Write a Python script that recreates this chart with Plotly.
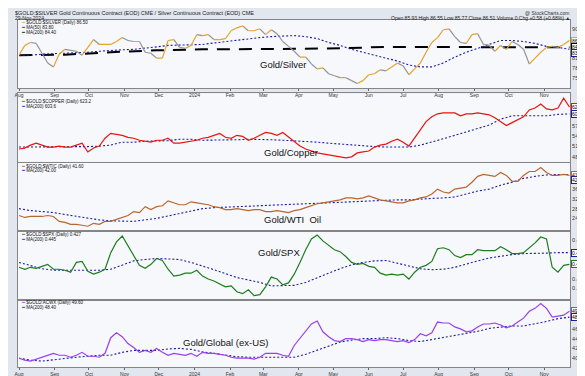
import pandas as pd
import plotly.graph_objects as go

START = pd.Timestamp("2023-08-01")

# ---------------- data (5-day steps for prices, 10-day steps for averages) -------------
gs_vals = [82.0, 85.0, 85.9, 85.6, 82.6, 79.6, 78.4, 82.3, 83.8, 83.5,
           83.2, 82.0, 84.4, 86.8, 85.3, 85.3, 85.3, 86.2, 87.4, 86.5,
           86.2, 86.2, 82.9, 82.6, 81.1, 81.1, 86.5, 86.8, 84.4, 84.1,
           85.0, 88.3, 88.0, 88.3, 86.8, 86.8, 87.1, 89.5, 90.4, 91.0,
           89.5, 89.5, 90.1, 88.3, 89.8, 88.6, 86.2, 84.7, 83.2, 81.4,
           81.4, 79.3, 77.8, 78.1, 76.3, 75.7, 75.1, 75.1, 74.2, 73.3,
           74.2, 76.0, 76.3, 77.5, 77.2, 78.4, 79.6, 78.7, 76.0, 77.8,
           79.6, 82.9, 85.9, 87.4, 89.8, 90.1, 87.7, 85.9, 85.6, 88.3,
           88.6, 85.3, 85.0, 83.2, 85.0, 83.8, 86.2, 85.3, 83.8, 79.3,
           81.1, 82.9, 84.4, 84.7, 84.4, 85.3, 86.5]
gs_ma50 = [82.0, 82.0, 82.3, 82.45, 82.6, 82.6, 82.9, 83.2, 83.5, 83.65,
           83.8, 84.1, 84.55, 85.0, 85.15, 85.3, 85.3, 85.75, 86.2, 86.5,
           86.95, 87.4, 87.7, 87.85, 88.0, 87.7, 87.1, 85.9, 85.0, 83.8,
           82.9, 82.0, 81.1, 80.2, 79.0, 78.4, 78.4, 79.6, 81.4, 82.9,
           84.1, 85.3, 86.5, 86.5, 86.2, 85.6, 84.7, 84.4, 83.8]
gs_ma200 = [82.0, 82.15, 82.9, 83.5, 83.8, 83.8, 83.95, 84.1, 84.55, 84.55, 84.4, 84.4, 84.4]

gc_vals = [502.8, 505.6, 514.0, 519.6, 514.0, 508.4, 508.4, 511.2, 508.4, 508.4,
           514.0, 519.6, 494.4, 505.6, 511.2, 533.6, 547.6, 544.8, 542.0, 536.4,
           533.6, 528.0, 525.2, 522.4, 528.0, 528.0, 533.6, 519.6, 519.6, 522.4,
           525.2, 528.0, 533.6, 536.4, 542.0, 547.6, 536.4, 533.6, 542.0, 539.2,
           528.0, 533.6, 542.0, 550.4, 547.6, 542.0, 550.4, 536.4, 522.4, 511.2,
           502.8, 497.2, 491.6, 488.8, 486.0, 483.2, 480.4, 477.6, 480.4, 491.6,
           494.4, 497.2, 508.4, 514.0, 516.8, 525.2, 530.8, 522.4, 511.2, 533.6,
           558.8, 581.2, 595.2, 603.6, 606.4, 606.4, 606.4, 598.0, 603.6, 603.6,
           606.4, 603.6, 600.8, 592.4, 581.2, 570.0, 578.4, 586.8, 595.2, 614.8,
           620.4, 631.6, 617.6, 614.8, 620.4, 648.4, 623.2]
gc_ma = [508.4, 508.4, 508.4, 508.4, 508.4, 508.4, 509.8, 511.2, 514.0, 522.4,
         522.4, 525.2, 525.2, 526.6, 530.8, 530.8, 528.0, 528.0, 528.0, 529.4,
         530.8, 530.8, 529.4, 528.0, 526.6, 525.2, 522.4, 519.6, 516.8, 514.0,
         511.2, 509.8, 508.4, 508.4, 508.4, 514.0, 522.4, 532.2, 542.0, 551.8,
         561.6, 571.4, 588.2, 598.0, 598.0, 598.0, 598.0, 602.2, 603.6]

go_vals = [25.2, 24.4, 24.8, 24.8, 24.8, 25.2, 24.8, 22.8, 22.4, 21.6,
           21.6, 21.2, 20.8, 22.0, 21.6, 22.8, 22.8, 23.6, 24.4, 25.2,
           26.8, 26.4, 28.8, 27.6, 28.8, 29.2, 31.2, 30.4, 29.6, 29.6,
           30.8, 30.4, 30.0, 29.6, 28.8, 28.4, 27.6, 27.6, 28.0, 27.6,
           27.2, 27.6, 27.6, 26.8, 26.8, 27.2, 26.8, 26.4, 27.2, 27.6,
           28.4, 29.2, 30.0, 30.4, 30.8, 31.2, 31.6, 32.4, 32.4, 32.0,
           32.4, 33.2, 32.4, 31.6, 31.2, 30.8, 30.4, 30.4, 31.2, 31.6,
           32.4, 32.8, 34.0, 36.0, 34.8, 34.4, 36.0, 36.4, 36.8, 38.8,
           41.2, 42.0, 41.6, 41.2, 42.8, 41.6, 39.2, 39.2, 41.6, 43.2,
           43.2, 44.8, 42.8, 41.6, 41.6, 42.0, 41.6]
go_ma = [28.0, 27.2, 26.8, 26.4, 25.6, 24.8, 24.2, 23.4, 23.0, 22.8,
         22.8, 23.4, 24.0, 25.0, 26.0, 27.2, 28.0, 28.4, 28.6, 28.8,
         29.0, 29.2, 29.4, 29.6, 29.8, 30.0, 30.2, 30.4, 30.6, 30.8,
         31.0, 31.2, 31.6, 31.6, 31.6, 32.0, 32.2, 32.4, 32.8, 34.0,
         35.2, 36.0, 37.6, 38.8, 40.4, 41.2, 41.8, 42.0, 42.0]

spx_vals = [0.4225, 0.4195, 0.4225, 0.421, 0.424, 0.427, 0.4195, 0.4195, 0.418, 0.415,
            0.43, 0.4315, 0.4165, 0.412, 0.415, 0.4195, 0.445, 0.4615, 0.4705, 0.4555,
            0.439, 0.4255, 0.421, 0.427, 0.436, 0.433, 0.4195, 0.409, 0.4105, 0.4135,
            0.4135, 0.418, 0.409, 0.4045, 0.4015, 0.397, 0.3925, 0.394, 0.385, 0.382,
            0.388, 0.379, 0.3805, 0.3925, 0.4075, 0.4045, 0.3955, 0.3985, 0.412, 0.43,
            0.4495, 0.466, 0.472, 0.463, 0.4555, 0.4495, 0.4465, 0.439, 0.43, 0.427,
            0.4285, 0.424, 0.4225, 0.4135, 0.4105, 0.412, 0.4105, 0.412, 0.4045, 0.415,
            0.4225, 0.4255, 0.4315, 0.451, 0.4525, 0.4495, 0.4405, 0.4375, 0.442, 0.442,
            0.4495, 0.448, 0.448, 0.448, 0.454, 0.4495, 0.4435, 0.4435, 0.445, 0.4525,
            0.46, 0.469, 0.466, 0.4225, 0.415, 0.4255, 0.427]
spx_ma = [0.43, 0.4248, 0.4203, 0.418, 0.418, 0.418, 0.418, 0.418, 0.4195, 0.4263,
          0.4323, 0.4345, 0.436, 0.4353, 0.4345, 0.43, 0.4248, 0.4188, 0.4128, 0.4068,
          0.403, 0.3993, 0.394, 0.394, 0.3948, 0.3993, 0.4068, 0.4135, 0.4203, 0.4263,
          0.43, 0.4323, 0.433, 0.4285, 0.424, 0.4203, 0.4188, 0.4195, 0.4225, 0.4278,
          0.4323, 0.4368, 0.4398, 0.442, 0.4435, 0.4435, 0.4443, 0.445, 0.445]

gg_vals = [40.0, 39.6, 39.4, 39.8, 40.2, 40.6, 41.0, 40.6, 40.6, 40.2,
           40.6, 41.2, 40.4, 40.4, 40.2, 41.0, 44.2, 45.2, 44.4, 43.0,
           42.2, 41.2, 41.6, 41.2, 42.0, 41.2, 40.6, 41.0, 40.8, 40.6,
           41.0, 40.4, 41.2, 41.0, 41.0, 40.8, 40.6, 40.2, 40.0, 40.0,
           40.0, 39.8, 40.2, 41.0, 41.0, 41.0, 40.6, 40.4, 42.6, 44.0,
           45.6, 47.0, 47.6, 45.4, 44.4, 43.6, 43.4, 44.0, 44.0, 43.8,
           43.4, 43.8, 43.6, 43.8, 43.8, 43.6, 43.4, 43.6, 43.2, 43.8,
           45.0, 44.6, 45.2, 47.4, 47.2, 47.2, 46.4, 46.0, 45.4, 45.6,
           46.4, 47.0, 47.0, 47.2, 46.8, 46.2, 46.6, 47.4, 48.2, 49.6,
           50.2, 51.2, 50.2, 48.4, 48.6, 48.8, 49.6]
gg_ma = [40.0, 39.6, 39.4, 39.7, 40.0, 40.2, 40.4, 40.6, 40.6, 41.2,
         41.6, 41.6, 41.6, 41.9, 42.0, 41.8, 41.3, 41.0, 40.6, 40.3,
         40.2, 40.2, 40.2, 40.2, 40.2, 40.8, 41.6, 42.5, 43.3, 43.7,
         44.0, 44.0, 44.2, 44.0, 43.6, 43.4, 43.8, 44.2, 44.6, 45.0,
         45.5, 46.1, 46.4, 46.6, 46.6, 47.0, 47.5, 48.1, 48.4]

panel_titles = ["Gold/Silver", "Gold/Copper", "Gold/WTI  Oil", "Gold/SPX", "Gold/Global (ex-US)"]
symbols = ["$GOLD:$SILVER", "$GOLD:$COPPER", "$GOLD:$WTIC", "$GOLD:$SPX", "$GOLD:ACWX"]

# ---------------- styling / layout helpers ----------------
W, H = 585, 376
L, R, T, B = 7, 563, 12, 367
def px(x): return (x - L) / (R - L)
def py(y): return (B - y) / (B - T)

panel_px = [(12, 82), (87, 157), (158, 228), (228, 298), (298, 367)]
yranges = [[71.8, 92.8], [466.4, 662.4], [18.8, 46.8], [0.373, 0.478], [38.2, 52.0]]
ydticks = [3, 30, 4, 0.015, 2]
yfmt = [".1f", ".0f", ".1f", ".3f", ".1f"]
tagfmt = [".2f", ".1f", ".2f", ".3f", ".2f"]

GOLD, GRAY = "#e3a32e", "#939393"
RED, BROWN, GREEN, PURPLE = "#e8140f", "#b8662e", "#1d7d1d", "#9a3ef0"
NAVY = "#1c1ca0"
FONT = "Liberation Sans"
MA_LINE = dict(color=NAVY, width=1.1, dash="2px,2px")

def d5(n): return pd.date_range(START, periods=n, freq="5D")
def d10(n): return pd.date_range(START, periods=n, freq="10D")
def d40(n): return pd.date_range(START, periods=n, freq="40D")

def ax(k, kind):
    return kind if k == 1 else f"{kind}{k}"

fig = go.Figure()

# panel 1: two-coloured line by direction
xs = d5(len(gs_vals))
up_x, up_y, dn_x, dn_y = [], [], [], []
for i in range(len(gs_vals) - 1):
    if gs_vals[i + 1] >= gs_vals[i]:
        up_x += [xs[i], xs[i + 1], None]; up_y += [gs_vals[i], gs_vals[i + 1], None]
    else:
        dn_x += [xs[i], xs[i + 1], None]; dn_y += [gs_vals[i], gs_vals[i + 1], None]
fig.add_trace(go.Scatter(x=d40(len(gs_ma200)), y=gs_ma200, mode="lines",
                         line=dict(color="#000000", width=2, dash="13px,9px"),
                         xaxis="x", yaxis="y"))
fig.add_trace(go.Scatter(x=d10(len(gs_ma50)), y=gs_ma50, mode="lines", line=MA_LINE,
                         xaxis="x", yaxis="y"))
fig.add_trace(go.Scatter(x=dn_x, y=dn_y, mode="lines", line=dict(color=GRAY, width=1.2),
                         xaxis="x", yaxis="y"))
fig.add_trace(go.Scatter(x=up_x, y=up_y, mode="lines", line=dict(color=GOLD, width=1.2),
                         xaxis="x", yaxis="y"))

others = [(gc_vals, gc_ma, RED), (go_vals, go_ma, BROWN),
          (spx_vals, spx_ma, GREEN), (gg_vals, gg_ma, PURPLE)]
for k, (vals, ma, col) in enumerate(others, start=2):
    fig.add_trace(go.Scatter(x=d10(len(ma)), y=ma, mode="lines", line=MA_LINE,
                             xaxis=ax(k, "x"), yaxis=ax(k, "y")))
    fig.add_trace(go.Scatter(x=d5(len(vals)), y=vals, mode="lines",
                             line=dict(color=col, width=1.2),
                             xaxis=ax(k, "x"), yaxis=ax(k, "y")))

# right-axis value tags: (panel, value, colour, yshift)
tags = [(1, gs_vals[-1], GOLD, 0), (1, gs_ma200[-1], "#000000", 0), (1, gs_ma50[-1], NAVY, -4)]
for k, (vals, ma, col) in enumerate(others, start=2):
    shift = -6 if k == 3 else 0
    tags.append((k, vals[-1], col, 0))
    tags.append((k, ma[-1], NAVY, shift))

# axes
x0 = START - pd.Timedelta(days=0.9)
x1 = START + pd.Timedelta(days=480.5)
tickvals = pd.date_range("2023-08-01", "2024-11-01", freq="MS")
ticktext = ["2024" if d.month == 1 else d.strftime("%b") for d in tickvals]

layout = dict(width=W, height=H, margin=dict(l=L, r=W - R, t=T, b=H - B),
              paper_bgcolor="#e2e6ee", plot_bgcolor="#f7f8fc", showlegend=False,
              font=dict(family=FONT, size=6, color="#222222"))
for k in range(1, 6):
    top, bot = panel_px[k - 1]
    lo, hi = yranges[k - 1]
    step = ydticks[k - 1]
    hpx = bot - top
    tag_px = [(v - lo) / (hi - lo) * hpx - s for (kk, v, c, s) in tags if kk == k]
    yt = []
    n = int(lo // step) + 1
    while n * step <= hi:
        v = round(n * step, 4)
        p = (v - lo) / (hi - lo) * hpx
        if all(abs(p - tp) > 6 for tp in tag_px) and 3 < p < hpx - 3:
            yt.append(v)
        n += 1
    show = k in (1, 5)
    layout["xaxis" if k == 1 else f"xaxis{k}"] = dict(
        domain=[0, 1], anchor=ax(k, "y"), type="date", range=[x0, x1],
        tickvals=list(tickvals), ticktext=ticktext, showticklabels=show,
        ticks="outside" if show else "", ticklen=1.5, tickcolor="#666",
        tickfont=dict(size=5, color="#333"), showgrid=False, zeroline=False,
        showline=True, mirror=True, linecolor="#858585", linewidth=1)
    layout["yaxis" if k == 1 else f"yaxis{k}"] = dict(
        domain=[py(bot), py(top)], anchor=ax(k, "x"), side="right",
        range=yranges[k - 1], tickvals=yt, tickformat=yfmt[k - 1],
        tickfont=dict(size=5.5, color="#333"), showgrid=False, zeroline=False,
        ticks="", showline=True, mirror=True, linecolor="#858585", linewidth=1)
fig.update_layout(**layout)

ann = []
def note(text, x, y, size, xanchor="left", color="#222"):
    ann.append(dict(text=text, x=px(x), y=py(y), xref="paper", yref="paper",
                    xanchor=xanchor, yanchor="middle", showarrow=False,
                    font=dict(size=size, color=color, family=FONT)))

# panel titles (centre positions)
title_pos = [(274, 58), (282, 148), (283, 216), (270, 250), (217, 342)]
for t, (x, y) in zip(panel_titles, title_pos):
    note(t, x, y, 9.5, "center", "#111")

# header
note("$GOLD:$SILVER Gold Continuous Contract (EOD) CME / Silver Continuous Contract (EOD) CME", 2, 4.5, 5.5)
note("29-Nov-2024", 2, 9.5, 5)
note("@ StockCharts.com", 565, 4.5, 5, "right", "#333")
note("Open 85.93 High 86.55 Low 85.77 Close 86.51 Volume 0 Chg +0.58 (+0.68%) \u25b2", 565, 9.5, 5, "right")

# in-panel legends
def legend_line(col, text, y):
    note(f"<span style='color:{col}'>\u2501</span> {text}", 8, y, 4.5, "left", "#111")

legend_line(GOLD, f"{symbols[0]} (Daily) {gs_vals[-1]:.2f}", 15)
legend_line(NAVY, f"MA(50) {gs_ma50[-1]:.2f}", 19.7)
legend_line("#000", f"MA(200) {gs_ma200[-1]:.2f}", 24.4)
legend_y = [(95.5, 100.2), (161.5, 166.2), (231.5, 236.2), (301.5, 306.2)]
for k, ((vals, ma, col), (ya, yb)) in enumerate(zip(others, legend_y), start=2):
    f = tagfmt[k - 1]
    legend_line(col, f"{symbols[k - 1]} (Daily) {format(vals[-1], f)}", ya)
    legend_line(NAVY, f"MA(200) {format(ma[-1], f)}", yb)

# right-axis value tags
for (k, val, col, shift) in tags:
    ann.append(dict(text=format(val, tagfmt[k - 1]), x=1.0, xref="paper", y=val, yref=ax(k, "y"),
                    xanchor="left", yanchor="middle", xshift=1, yshift=shift, showarrow=False,
                    bgcolor="#ffffff", bordercolor=col, borderwidth=1, borderpad=0,
                    font=dict(size=5, color="#000")))

fig.update_layout(annotations=ann)
fig.write_html("out.html")
